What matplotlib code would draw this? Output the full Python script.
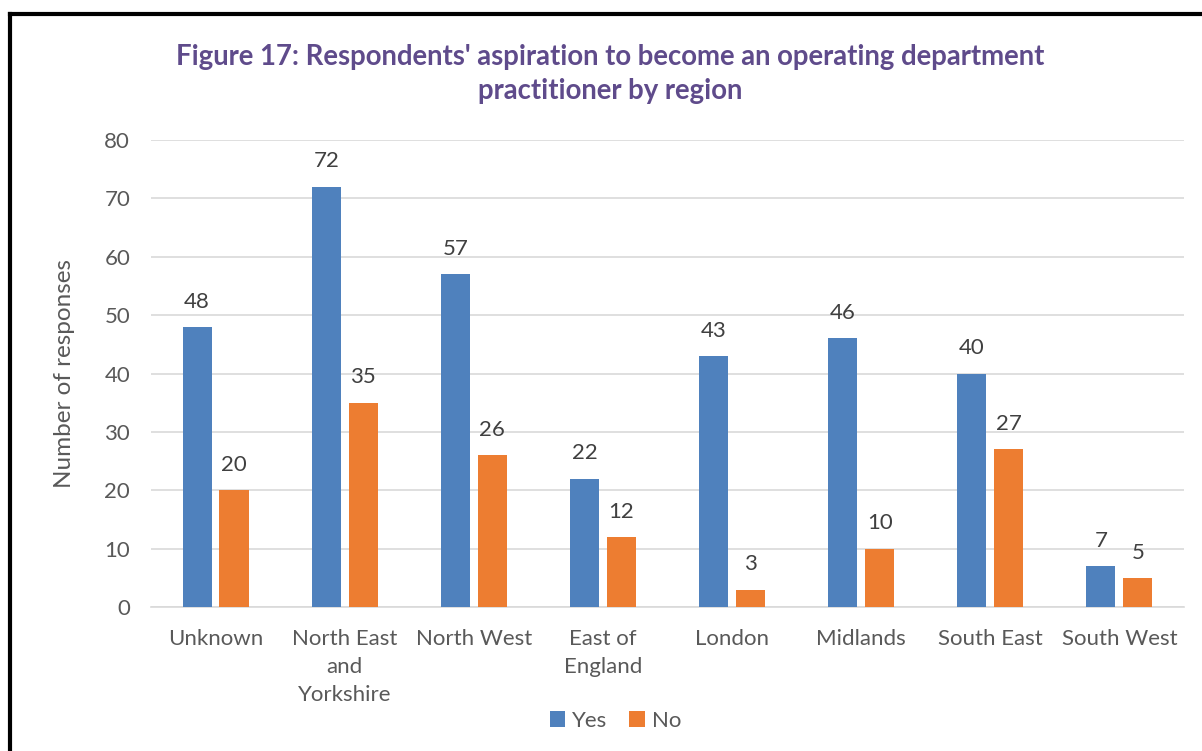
import matplotlib
matplotlib.use("Agg")
import matplotlib.pyplot as plt
import numpy as np

# region Source Data
regions = ["Unknown", "North East\nand\nYorkshire", "North West", "East of\nEngland",
           "London", "Midlands", "South East", "South West"]
yes_values = [48, 72, 57, 22, 43, 46, 40, 7]
no_values = [20, 35, 26, 12, 3, 10, 27, 5]
# endregion

plt.rcParams['font.family'] = ['Lato', 'DejaVu Sans']
text_color = "#595959"
blue = "#4F81BD"
orange = "#ED7D31"

fig = plt.figure(figsize=(12.02, 7.51), dpi=100)
ax = fig.add_axes([0.1256, 0.1917, 0.8594, 0.6219])

x = np.arange(len(regions))
width = 0.225
offset = 0.143
bars_yes = ax.bar(x - offset, yes_values, width, color=blue, label="Yes", zorder=3)
bars_no = ax.bar(x + offset, no_values, width, color=orange, label="No", zorder=3)

for bars in (bars_yes, bars_no):
    ax.bar_label(bars, padding=11, fontsize=16, color="#404040")

ax.set_xlim(-0.5, len(regions) - 0.5)
ax.set_ylim(0, 80)
ax.set_yticks(range(0, 81, 10))
ax.set_xticks(x)
ax.set_xticklabels(regions, fontsize=16, color=text_color, linespacing=1.48)
ax.tick_params(axis='y', labelsize=16, labelcolor=text_color, length=0, pad=15)
ax.tick_params(axis='x', length=0, pad=16)
ax.grid(axis='y', color="#D9D9D9", linewidth=1.2, zorder=0)
for side in ["top", "right", "left"]:
    ax.spines[side].set_visible(False)
ax.spines["bottom"].set_color("#D9D9D9")
ax.spines["bottom"].set_linewidth(1.2)

ax.set_ylabel("Number of responses", fontsize=17.5, color=text_color, labelpad=21)

fig.suptitle("Figure 17: Respondents' aspiration to become an operating department\npractitioner by region",
             x=0.508, y=0.942, fontsize=19.8, fontweight='bold', color="#5F4B8B", linespacing=1.38)

fig.legend(loc="center", bbox_to_anchor=(0.512, 0.040), ncol=2, frameon=False,
           fontsize=16, handlelength=0.7, handleheight=0.7, handletextpad=0.3,
           columnspacing=1.0, labelcolor=text_color)

# frame lines (left and top edge of the page box)
fig.add_artist(plt.Line2D([0.0083, 0.0083], [0.0, 0.981], color="black", linewidth=3,
                          transform=fig.transFigure))
fig.add_artist(plt.Line2D([0.0083, 1.0], [0.981, 0.981], color="black", linewidth=3,
                          transform=fig.transFigure))

plt.savefig("out.png", dpi=100)
